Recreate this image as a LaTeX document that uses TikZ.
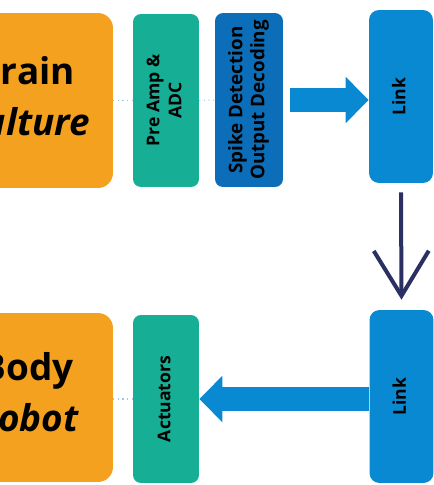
\documentclass[tikz,border=0pt]{standalone}
\usepackage{fontspec}
\setmainfont{Open Sans}
\usepackage{tikz}
\usetikzlibrary{positioning}
\usetikzlibrary{arrows.meta}
\definecolor{brainorange}{RGB}{244,161,31}
\definecolor{ampteal}{RGB}{22,174,149}
\definecolor{spikeblue}{RGB}{12,110,184}
\definecolor{linkblue}{RGB}{9,137,209}
\definecolor{navyarrow}{RGB}{42,48,98}
\definecolor{dotblue}{RGB}{150,200,235}
\newcommand{\vtext}[2][10]{\rotatebox{90}{\fontsize{#1}{12.5}\selectfont\bfseries\begin{tabular}{@{}c@{}}#2\end{tabular}}}
\newcommand{\bigtext}[2]{\fontsize{21}{28.5}\selectfont\bfseries\begin{tabular}{@{}c@{}}#1\\\textit{#2}\end{tabular}}

\begin{document}
\begin{tikzpicture}[x=0.02cm, y=-0.02cm,
    orangebox/.style={fill=brainorange, rounded corners=0.3cm, minimum width=3.46cm, inner sep=0pt},
    tealbox/.style={fill=ampteal, rounded corners=0.16cm, minimum width=1.32cm, inner sep=0pt},
    spikebox/.style={fill=spikeblue, rounded corners=0.16cm, minimum width=1.36cm, minimum height=3.48cm, inner sep=0pt},
    linkbox/.style={fill=linkblue, rounded corners=0.2cm, minimum width=1.28cm, minimum height=3.46cm, inner sep=0pt},
    blockarrow/.style={draw=linkblue, line width=0.49cm, -{Triangle[length=0.46cm, width=0.9cm]}},
    dotline/.style={draw=dotblue, line width=0.6pt, dotted}]
  \useasboundingbox (0,0) rectangle (434,485);
  \clip (0,0) rectangle (434,485);

  % top row
  \node[orangebox, minimum height=3.5cm] (brain) at (26.5,100.5) {};
  \node (braintext) at (25.5,100) {\bigtext{Brain}{Culture}};
  \node[tealbox, minimum height=3.46cm] (preamp) at (166,100.5) {\vtext{Pre Amp \&\\ADC}};
  \node[spikebox] (spike) at (249,100) {\vtext[10.7]{Spike Detection\\Output Decoding}};
  \node[linkbox] (linkA) at (401,96.5) {\vtext{Link}};

  % bottom row
  \node[orangebox, minimum height=3.38cm] (body) at (26.5,397.5) {};
  \node (bodytext) at (27.5,396) {\bigtext{Body}{Robot}};
  \node[tealbox, minimum height=3.36cm] (actuators) at (166,399) {\vtext{Actuators}};
  \node[linkbox] (linkB) at (401.5,396.5) {\vtext{Link}};

  \draw[dotline] (brain.east) -- (preamp.west);
  \draw[dotline] (preamp.east) -- (spike.west);
  \draw[dotline] (body.east |- actuators.east) -- (actuators.west);

  \draw[blockarrow] ([xshift=0.14cm]spike.east) -- (spike.east -| linkA.west);
  \draw[blockarrow] (linkB.west |- actuators.east) -- (actuators.east);

  \draw[navyarrow, line width=0.08cm, -{Straight Barb[length=0.9cm, width=1.1cm]}]
    ([yshift=-0.18cm]linkA.south) -- ([yshift=0.2cm]linkB.north);
\end{tikzpicture}
\end{document}
